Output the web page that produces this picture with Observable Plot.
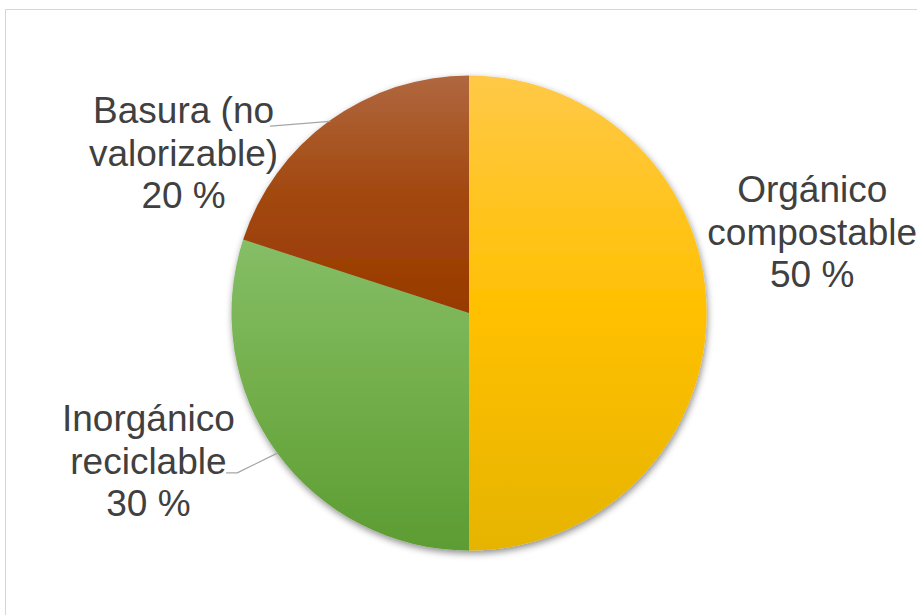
<!DOCTYPE html>
<html>
<head>
<meta charset="utf-8">
<script src="https://cdn.jsdelivr.net/npm/d3@7"></script>
<script src="https://cdn.jsdelivr.net/npm/@observablehq/plot@0.6"></script>
<style>
  html, body { margin: 0; padding: 0; background: #fff; overflow: hidden; }
  #wrap { position: relative; width: 917px; height: 615px; overflow: hidden; }
  #frame { position: absolute; left: 5px; top: 9px; width: 1000px; height: 700px;
           border: 1.3px solid #d6d6d6; pointer-events: none; }
</style>
</head>
<body>
<div id="wrap"><div id="frame"></div></div>
<script>
// ---- data ----
const categories = ["Orgánico compostable", "Inorgánico reciclable", "Basura (no valorizable)"];
const values = [50, 30, 20];
const labelLines = [["Orgánico", "compostable"], ["Inorgánico", "reciclable"], ["Basura (no", "valorizable)"]];

// ---- style / layout (pie units: radius = 1) ----
const gradients = [
  ["#FFC947", "#FFC000", "#E6B400"],
  ["#85BE66", "#72AE4A", "#5C9C32"],
  ["#B0673F", "#A2480F", "#983A00"]
];
const labelPos = [[1.443, 0.347], [-1.352, -0.617], [-1.204, 0.68]];
const leaderEnds = [null, [[-1.023, -0.671], [-0.978, -0.671]], [[-0.838, 0.789]]];

const W = 917, H = 615, cxPx = 469, cyPx = 313, Rpx = 237.5;

const arcs = d3.pie().sort(null).value(d => d)(values);
const mids = arcs.map(a => (a.startAngle + a.endAngle) / 2);

const labels = categories.map((c, i) => ({
  text: labelLines[i].join("\n") + "\n" + values[i] + " %",
  x: labelPos[i][0], y: labelPos[i][1]
}));

const leaders = [];
leaderEnds.forEach((pts, i) => {
  if (!pts) return;
  pts.forEach(p => leaders.push({s: i, x: p[0], y: p[1]}));
  leaders.push({s: i, x: Math.sin(mids[i]), y: Math.cos(mids[i])});
});

function pieMark(index, scales) {
  const {x, y} = scales;
  const g = d3.create("svg:g");
  const defs = g.append("defs");
  gradients.forEach((st, i) => {
    const lg = defs.append("linearGradient").attr("id", "pg" + i)
      .attr("x1", 0).attr("y1", 0).attr("x2", 0).attr("y2", 1);
    lg.append("stop").attr("offset", "0%").attr("stop-color", st[0]);
    lg.append("stop").attr("offset", "50%").attr("stop-color", st[1]);
    lg.append("stop").attr("offset", "100%").attr("stop-color", st[2]);
  });
  const f = defs.append("filter").attr("id", "pieShadow")
    .attr("x", "-10%").attr("y", "-10%").attr("width", "120%").attr("height", "125%");
  f.append("feDropShadow").attr("dx", 1).attr("dy", 3).attr("stdDeviation", 3.5)
    .attr("flood-color", "#000").attr("flood-opacity", 0.45);
  const r = x(1) - x(0);
  const arc = d3.arc().innerRadius(0).outerRadius(r);
  const pg = g.append("g")
    .attr("transform", `translate(${x(0)},${y(0)})`)
    .attr("filter", "url(#pieShadow)");
  pg.selectAll("path").data(arcs).join("path")
    .attr("d", arc)
    .attr("fill", (d, i) => `url(#pg${i})`);
  return g.node();
}

const chart = Plot.plot({
  width: W, height: H, margin: 0,
  style: {fontFamily: "'Liberation Sans', Arial, sans-serif", background: "transparent"},
  x: {domain: [(0 - cxPx) / Rpx, (W - cxPx) / Rpx], axis: null},
  y: {domain: [(cyPx - H) / Rpx, cyPx / Rpx], axis: null},
  marks: [
    pieMark,
    Plot.line(leaders, {x: "x", y: "y", z: "s", stroke: "#a6a6a6", strokeWidth: 1.3}),
    Plot.text(labels, {x: "x", y: "y", text: "text", fontSize: 37, lineHeight: 1.15,
      fill: "#404040", textAnchor: "middle", lineAnchor: "middle"})
  ]
});
chart.style.position = "absolute";
chart.style.left = "0";
chart.style.top = "0";
chart.style.maxWidth = "none";
document.getElementById("wrap").appendChild(chart);
</script>
</body>
</html>
